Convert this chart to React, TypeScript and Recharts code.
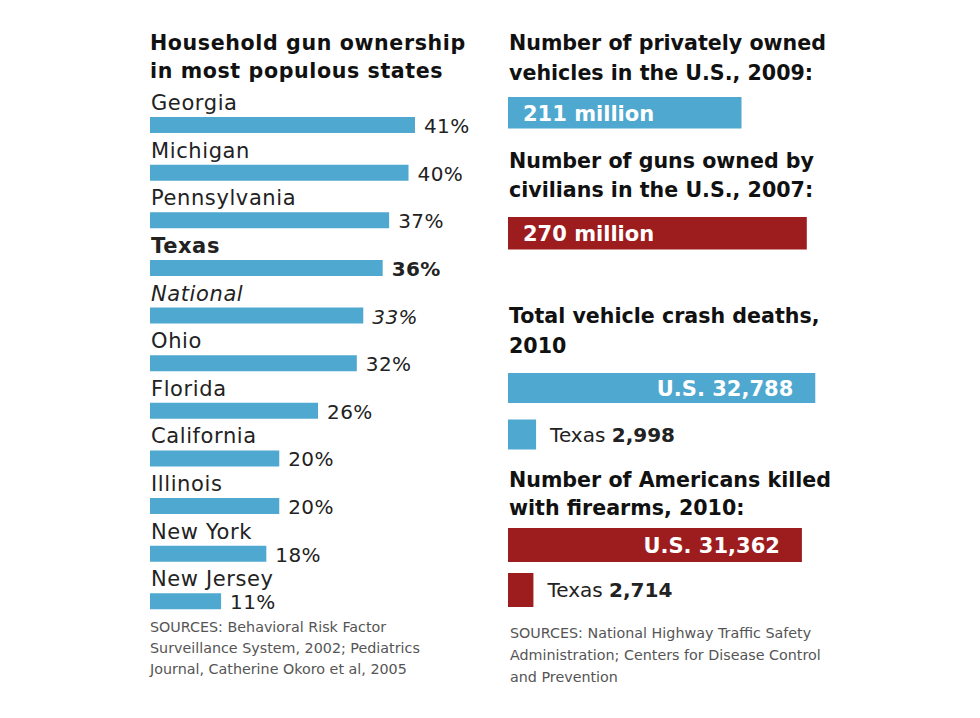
import { BarChart, Bar, XAxis, YAxis, LabelList } from 'recharts';

const STATES = [
  'Georgia', 'Michigan', 'Pennsylvania', 'Texas', 'National', 'Ohio',
  'Florida', 'California', 'Illinois', 'New York', 'New Jersey',
];
const OWNERSHIP = [41, 40, 37, 36, 33, 32, 26, 20, 20, 18, 11];

const VEHICLES = ['211 million'];
const VEHICLE_VALUES = [211];
const GUNS = ['270 million'];
const GUN_VALUES = [270];

const PLACES = ['U.S.', 'Texas'];
const CRASH_DEATHS = [32788, 2998];
const FIREARM_DEATHS = [31362, 2714];

const BLUE = '#4fa8d0';
const RED = '#9d1c1e';
const FONT = '"DejaVu Sans", Verdana, sans-serif';

const ownershipData = STATES.map((name, i) => ({ name, value: OWNERSHIP[i] }));
const vehicleData = VEHICLES.map((name, i) => ({ name, value: VEHICLE_VALUES[i] }));
const gunData = GUNS.map((name, i) => ({ name, value: GUN_VALUES[i] }));
const crashData = PLACES.map((name, i) => ({ name, value: CRASH_DEATHS[i] }));
const firearmData = PLACES.map((name, i) => ({ name, value: FIREARM_DEATHS[i] }));

const fmt = (n: number) => n.toLocaleString('en-US');

function StateLabel(props: any) {
  const { x, y, width, height, index } = props;
  const name = STATES[index];
  const weight = name === 'Texas' ? 700 : 400;
  const style = name === 'National' ? 'italic' : 'normal';
  return (
    <g fontFamily={FONT} fill="#222">
      <text x={x + 1} y={y - 7} fontSize={21} letterSpacing={0.6} fontWeight={weight} fontStyle={style}>
        {name}
      </text>
      <text
        x={x + width + 9}
        y={y + height / 2 + 8}
        fontSize={20}
        letterSpacing={0.4}
        fontWeight={weight}
        fontStyle={style}
      >
        {OWNERSHIP[index]}%
      </text>
    </g>
  );
}

function InsideLeft(props: any) {
  const { x, y, height, value } = props;
  return (
    <text x={x + 15} y={y + height / 2 + 8} fontFamily={FONT} fontSize={21} fontWeight={700} fill="#fff">
      {value}
    </text>
  );
}

function PlaceLabel(props: any) {
  const { x, y, width, height, index, data } = props;
  const row = data[index];
  if (index === 0) {
    return (
      <text
        x={x + width - 22}
        y={y + height / 2 + 8}
        textAnchor="end"
        fontFamily={FONT}
        fontSize={21}
        fontWeight={700}
        fill="#fff"
      >
        {row.name} {fmt(row.value)}
      </text>
    );
  }
  return (
    <text x={x + width + 14} y={y + height / 2 + 7} fontFamily={FONT} fontSize={20} fill="#222">
      {row.name} <tspan fontWeight={700}>{fmt(row.value)}</tspan>
    </text>
  );
}

function SingleBar({ data, color, max, width, height }: any) {
  return (
    <BarChart width={width} height={height} data={data} layout="vertical" margin={{ top: 0, right: 0, bottom: 0, left: 0 }}>
      <XAxis type="number" domain={[0, max]} hide />
      <YAxis type="category" dataKey="name" hide />
      <Bar dataKey="value" fill={color} barSize={height} isAnimationActive={false}>
        <LabelList dataKey="name" content={<InsideLeft />} />
      </Bar>
    </BarChart>
  );
}

function PairBars({ data, color, band, barSize }: any) {
  return (
    <BarChart
      width={380}
      height={band * 2}
      data={data}
      layout="vertical"
      margin={{ top: 0, right: 52, bottom: 0, left: 0 }}
    >
      <XAxis type="number" domain={[0, 35000]} hide />
      <YAxis type="category" dataKey="name" hide />
      <Bar dataKey="value" fill={color} barSize={barSize} isAnimationActive={false}>
        <LabelList dataKey="value" content={(p: any) => <PlaceLabel {...p} data={data} />} />
      </Bar>
    </BarChart>
  );
}

const titleStyle = { fontFamily: FONT, fontSize: 20.6, fontWeight: 700, fill: '#111' };
const sourceStyle = { fontFamily: FONT, fontSize: 14.3, fill: '#555' };

export default function App() {
  return (
    <div style={{ position: 'absolute', left: 0, top: 0, width: 980, height: 718, background: '#fff', overflow: 'hidden' }}>
      <svg width={980} height={718} style={{ position: 'absolute', left: 0, top: 0 }}>
        <g style={titleStyle as any}>
          <text x={150} y={50} letterSpacing={0.6}>Household gun ownership</text>
          <text x={150} y={78} letterSpacing={0.6}>in most populous states</text>
          <text x={509} y={50}>Number of privately owned</text>
          <text x={509} y={80}>vehicles in the U.S., 2009:</text>
          <text x={509} y={168}>Number of guns owned by</text>
          <text x={509} y={197}>civilians in the U.S., 2007:</text>
          <text x={509} y={323}>Total vehicle crash deaths,</text>
          <text x={509} y={353}>2010</text>
          <text x={509} y={487}>Number of Americans killed</text>
          <text x={509} y={515}>with firearms, 2010:</text>
        </g>
        <g style={sourceStyle as any}>
          <text x={150} y={632}>SOURCES: Behavioral Risk Factor</text>
          <text x={150} y={653}>Surveillance System, 2002; Pediatrics</text>
          <text x={150} y={674}>Journal, Catherine Okoro et al, 2005</text>
          <text x={510} y={638}>SOURCES: National Highway Traffic Safety</text>
          <text x={510} y={660}>Administration; Centers for Disease Control</text>
          <text x={510} y={682}>and Prevention</text>
        </g>
      </svg>

      <div style={{ position: 'absolute', left: 150, top: 71 }}>
        <BarChart
          width={349}
          height={554}
          data={ownershipData}
          layout="vertical"
          margin={{ top: 30, right: 0, bottom: 0, left: 0 }}
        >
          <XAxis type="number" domain={[0, 54]} hide />
          <YAxis type="category" dataKey="name" hide />
          <Bar dataKey="value" fill={BLUE} barSize={16} isAnimationActive={false}>
            <LabelList dataKey="value" content={<StateLabel />} />
          </Bar>
        </BarChart>
      </div>

      <div style={{ position: 'absolute', left: 508, top: 95 }}>
        <SingleBar data={vehicleData} color={BLUE} max={300} width={332} height={35} />
      </div>
      <div style={{ position: 'absolute', left: 508, top: 215 }}>
        <SingleBar data={gunData} color={RED} max={300} width={332} height={36} />
      </div>

      <div style={{ position: 'absolute', left: 508, top: 365 }}>
        <PairBars data={crashData} color={BLUE} band={46.5} barSize={30} />
      </div>
      <div style={{ position: 'absolute', left: 508, top: 522 }}>
        <PairBars data={firearmData} color={RED} band={45} barSize={34} />
      </div>
    </div>
  );
}
